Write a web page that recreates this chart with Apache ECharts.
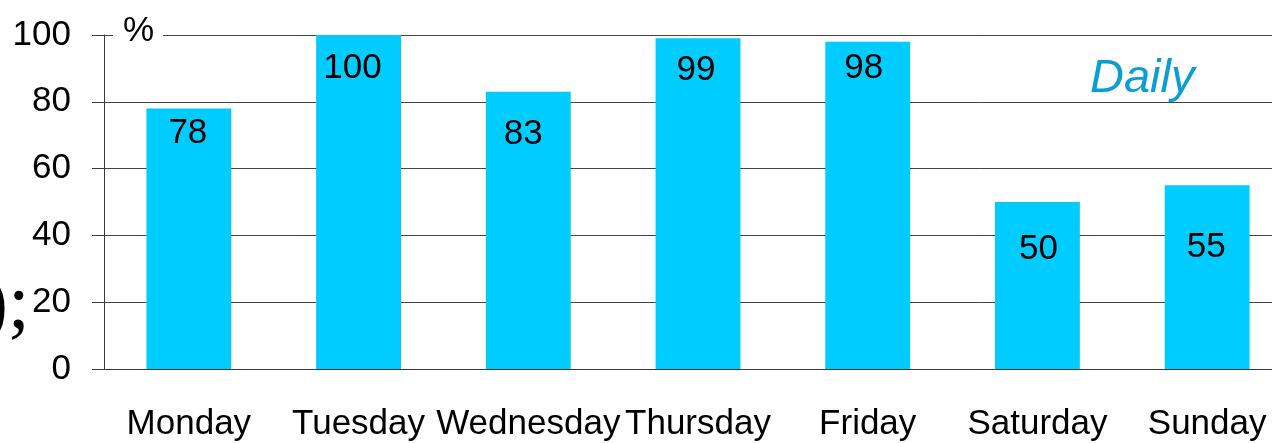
<!DOCTYPE html>
<html>
<head>
<meta charset="utf-8">
<script src="https://cdn.jsdelivr.net/npm/echarts@6/dist/echarts.min.js"></script>
<style>
html,body{margin:0;padding:0;background:#fff;}
#c{width:1272px;height:443px;}
</style>
</head>
<body>
<div id="c"></div>
<script>
var categories = ['Monday','Tuesday','Wednesday','Thursday','Friday','Saturday','Sunday'];
var values = [78, 100, 83, 99, 98, 50, 55];
var yTicks = [0, 20, 40, 60, 80, 100];
var unitLabel = '%';
var seriesTitle = 'Daily';

// per-bar label nudges (styling only)
var labelNudge = [[-1,7],[-6,16],[-5,25],[-2,15],[-4,9],[1,30],[-1,45]];

var FONT = '"Liberation Sans", Arial, sans-serif';
var chart = echarts.init(document.getElementById('c'), null, {renderer:'canvas'});
var option = {
  animation: false,
  backgroundColor: '#fff',
  grid: {left:104, top:35, width:1188, height:334, containLabel:false, outerBoundsMode:'none'},
  xAxis: {
    type:'category',
    data: categories,
    boundaryGap: true,
    axisLine: {show:true, lineStyle:{color:'#3a3a3a', width:1}},
    axisTick: {show:false},
    axisLabel: {interval:0, hideOverlap:false, fontSize:35, fontFamily:FONT, color:'#000', margin:38}
  },
  yAxis: {
    type:'value',
    min: yTicks[0],
    max: yTicks[yTicks.length-1],
    interval: yTicks[1]-yTicks[0],
    axisLine: {show:true, lineStyle:{color:'#3a3a3a', width:1}},
    axisTick: {show:true, length:12, lineStyle:{color:'#3a3a3a', width:1}},
    axisLabel: {fontSize:35, fontFamily:FONT, color:'#000', margin:33},
    splitLine: {show:true, lineStyle:{color:'#444', width:1}}
  },
  series: [{
    type:'bar',
    barWidth:'50%',
    itemStyle:{color:'#00CCFF'},
    label:{show:true, position:'insideTop', distance:0, fontSize:35, fontFamily:FONT, color:'#000'},
    data: values.map(function(v,i){
      return {value:v, label:{offset:labelNudge[i]}};
    })
  }],
  graphic: [
    {type:'rect', z:100, shape:{x:113, y:28, width:50, height:14}, style:{fill:'#fff'}},
    {type:'text', z:101, x:123, y:31, style:{text:unitLabel, font:'35px ' + FONT, fill:'#000', textAlign:'left', textVerticalAlign:'middle'}},
    {type:'text', z:101, x:1090, y:79, style:{text:seriesTitle, font:'italic 47px ' + FONT, fill:'#0b9ed5', textAlign:'left', textVerticalAlign:'middle'}},
    {type:'text', z:101, x:-18, y:308, style:{text:');', font:'78px "Liberation Serif", "Times New Roman", serif', fill:'#000', textAlign:'left', textVerticalAlign:'middle'}}
  ]
};
chart.setOption(option);
</script>
</body>
</html>
